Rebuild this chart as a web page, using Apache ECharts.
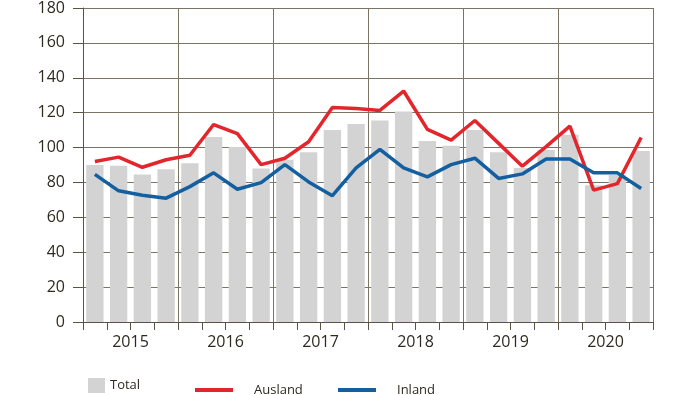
<!DOCTYPE html>
<html>
<head>
<meta charset="utf-8">
<script src="https://cdn.jsdelivr.net/npm/echarts@6/dist/echarts.min.js"></script>
<style>html,body{margin:0;padding:0;background:#fff;}#c{width:695px;height:395px;}</style>
</head>
<body>
<div id="c"></div>
<script>
const years = ['2015', '2016', '2017', '2018', '2019', '2020'];
const quarters = ['2015 Q1','2015 Q2','2015 Q3','2015 Q4','2016 Q1','2016 Q2','2016 Q3','2016 Q4','2017 Q1','2017 Q2','2017 Q3','2017 Q4','2018 Q1','2018 Q2','2018 Q3','2018 Q4','2019 Q1','2019 Q2','2019 Q3','2019 Q4','2020 Q1','2020 Q2','2020 Q3','2020 Q4'];
const total = [90, 89.5, 84.5, 87.5, 91, 106, 100.3, 88, 93, 97.3, 110, 113.5, 115.5, 120.7, 103.7, 101, 110, 97.3, 88.3, 98.6, 107.4, 78.4, 84.2, 98];
const ausland = [92, 94.5, 88.7, 93, 95.6, 113.2, 108, 90.2, 93.9, 103.3, 123, 122.4, 121.3, 132.4, 110.4, 104.3, 115.5, 102.4, 89.3, 100.5, 112.3, 75.6, 79.3, 105.8];
const inland = [84.6, 75.2, 72.7, 71, 77.6, 85.5, 76.1, 79.9, 90.2, 80.3, 72.4, 88.3, 99, 88.3, 83.2, 90.2, 93.9, 82.3, 84.9, 93.4, 93.4, 85.5, 85.5, 76.5];
const yTicks = [0, 20, 40, 60, 80, 100, 120, 140, 160, 180];

const RED = '#e3262b', BLUE = '#135f9f', GREY = '#d3d3d3';
const GRID = '#7a7465', AXIS = '#5a5446', TXT = '#2f2a20';
const FONT = '"Open Sans", Lato, sans-serif';

const chart = echarts.init(document.getElementById('c'), null, {renderer: 'canvas'});
chart.setOption({
  animation: false,
  backgroundColor: '#fff',
  grid: {left: 83, right: 42, top: 2, bottom: 73, containLabel: false},
  legend: [
    {data: [{name: 'Total', icon: 'rect'}], left: 88, top: 378, padding: 0, itemWidth: 17, itemHeight: 15,
     textStyle: {fontSize: 13, color: TXT, fontFamily: FONT}},
    {data: [{name: 'Ausland', icon: 'rect'}], left: 195, top: 383.5, padding: 0, itemWidth: 38, itemHeight: 4,
     textStyle: {fontSize: 13, color: TXT, fontFamily: FONT, padding: [0, 0, 0, 16]}},
    {data: [{name: 'Inland', icon: 'rect'}], left: 338, top: 383.5, padding: 0, itemWidth: 38, itemHeight: 4,
     textStyle: {fontSize: 13, color: TXT, fontFamily: FONT, padding: [0, 0, 0, 16]}}
  ],
  xAxis: [
    {type: 'category', data: quarters, position: 'bottom', boundaryGap: true,
     axisLine: {show: true, lineStyle: {color: AXIS, width: 1}},
     axisTick: {show: true, interval: 0, length: 8, lineStyle: {color: AXIS}},
     axisLabel: {show: false}, splitLine: {show: false}},
    {type: 'category', data: years, position: 'bottom', boundaryGap: true,
     axisLine: {show: false}, axisTick: {show: false},
     axisLabel: {show: true, interval: 0, margin: 12, fontSize: 16, color: TXT, fontFamily: FONT},
     splitLine: {show: true, interval: 0, lineStyle: {color: GRID, width: 1}}}
  ],
  yAxis: {
    type: 'value', min: yTicks[0], max: yTicks[yTicks.length - 1], interval: yTicks[1] - yTicks[0],
    axisLine: {show: true, lineStyle: {color: AXIS, width: 1}},
    axisTick: {show: true, length: 10, lineStyle: {color: AXIS}},
    axisLabel: {margin: 18, fontSize: 16, color: TXT, fontFamily: FONT, padding: [4, 0, 0, 0]},
    splitLine: {show: true, lineStyle: {color: GRID, width: 1}}
  },
  series: [
    {name: 'Total', type: 'bar', data: total, xAxisIndex: 0, barCategoryGap: '27%',
     itemStyle: {color: GREY}, z: 1},
    {name: 'Ausland', type: 'line', data: ausland, xAxisIndex: 0, symbol: 'none',
     lineStyle: {color: RED, width: 3.5}, itemStyle: {color: RED}, z: 3},
    {name: 'Inland', type: 'line', data: inland, xAxisIndex: 0, symbol: 'none',
     lineStyle: {color: BLUE, width: 3.5}, itemStyle: {color: BLUE}, z: 3}
  ]
});
</script>
</body>
</html>
